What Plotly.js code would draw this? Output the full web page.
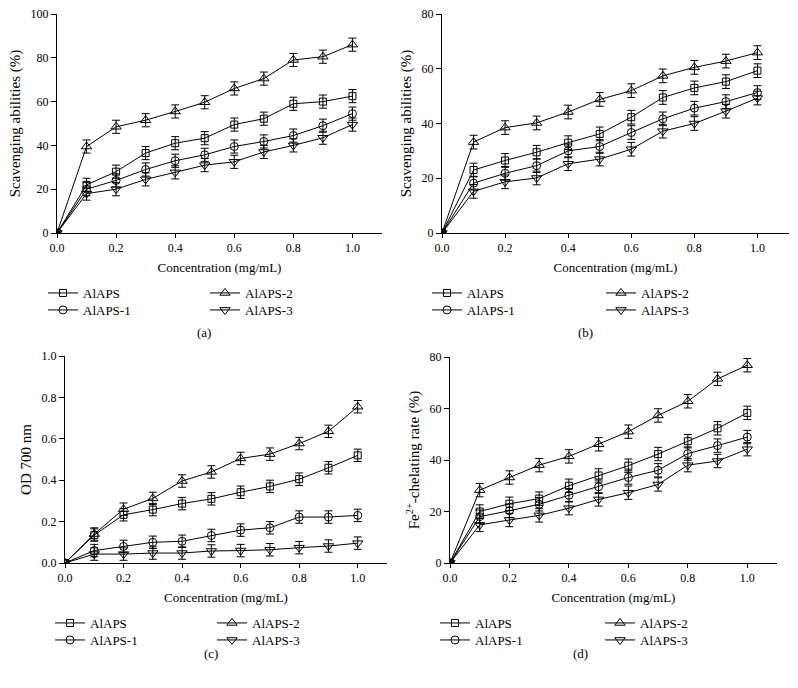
<!DOCTYPE html>
<html>
<head>
<meta charset="utf-8">
<script src="https://cdn.plot.ly/plotly-3.0.1.min.js"></script>
<style>html,body{margin:0;padding:0;background:#fff;}#chart{width:798px;height:688px;}</style>
</head>
<body>
<div id="chart"></div>
<script>
// Concentration (mg/mL)
const conc = [0, 0.1, 0.2, 0.3, 0.4, 0.5, 0.6, 0.7, 0.8, 0.9, 1.0];
const seriesNames = ["AlAPS", "AlAPS-1", "AlAPS-2", "AlAPS-3"];

// (a) Scavenging abilities (%)
const a_AlAPS  = [0, 22, 28, 36.5, 41, 43.3, 49.5, 52.2, 59, 60, 62.5];
const a_AlAPS1 = [0, 20, 24, 29, 33, 35.7, 39.5, 41.8, 44.5, 49, 54.5];
const a_AlAPS2 = [0, 39.5, 48.5, 51.5, 55.5, 59.7, 66, 70.5, 79, 80.5, 86];
const a_AlAPS3 = [0, 18, 20, 24.5, 27.7, 31, 32.5, 37, 40, 43.5, 49.5];
const a_err    = [0, 3, 3, 3, 3, 3, 3, 3, 3, 3, 3];

// (b) Scavenging abilities (%)
const b_AlAPS  = [0, 23, 26.5, 29.5, 33, 36.2, 42.3, 49.5, 53, 55.3, 59.3];
const b_AlAPS1 = [0, 18.2, 21.8, 24.6, 30, 31.6, 36.7, 41.7, 45.6, 48, 51.3];
const b_AlAPS2 = [0, 33.2, 38.5, 40.2, 44.2, 48.8, 52, 57.4, 60.5, 62.8, 65.9];
const b_AlAPS3 = [0, 15.2, 18.7, 20.1, 25.3, 27, 30.6, 37.2, 40, 44.5, 49.3];
const b_err    = [0, 2.5, 2.5, 2.5, 2.5, 2.5, 2.5, 2.5, 2.5, 2.5, 2.5];

// (c) OD 700 nm
const c_AlAPS  = [0, 0.135, 0.233, 0.258, 0.287, 0.31, 0.342, 0.37, 0.405, 0.46, 0.52];
const c_AlAPS1 = [0, 0.06, 0.08, 0.1, 0.105, 0.133, 0.159, 0.17, 0.222, 0.222, 0.23];
const c_AlAPS2 = [0, 0.14, 0.26, 0.312, 0.396, 0.44, 0.505, 0.526, 0.577, 0.636, 0.755];
const c_AlAPS3 = [0, 0.043, 0.043, 0.048, 0.048, 0.058, 0.06, 0.064, 0.074, 0.082, 0.096];
const c_err    = [0, 0.03, 0.03, 0.03, 0.03, 0.03, 0.03, 0.03, 0.03, 0.03, 0.03];

// (d) Fe2+-chelating rate (%)
const d_AlAPS  = [0, 20, 23, 25, 30, 34, 37.8, 42.3, 47.3, 52.3, 58.3];
const d_AlAPS1 = [0, 18, 20.3, 22.8, 26.3, 29.6, 33.2, 36, 42.5, 45.6, 48.9];
const d_AlAPS2 = [0, 28.3, 33.2, 38, 41.4, 46.1, 51, 57.3, 62.8, 71.5, 76.8];
const d_AlAPS3 = [0, 14.8, 16.7, 18.5, 21.3, 24.7, 27.3, 30.5, 38, 39.6, 44.2];
const d_err    = [0, 2.6, 2.6, 2.6, 2.6, 2.6, 2.6, 2.6, 2.6, 2.6, 2.6];

const xTickVals = [0, 0.2, 0.4, 0.6, 0.8, 1.0];
const xTickText = ["0.0", "0.2", "0.4", "0.6", "0.8", "1.0"];

const symbols = ["square-open", "circle-open", "triangle-up-open", "triangle-down-open"];
const sizes = [7, 8, 9, 9];
const FONT = "Liberation Serif, Times New Roman, serif";

const W = 798, H = 688;
function px(x) { return x / W; }
function py(y) { return 1 - y / H; }

// legend placement per panel: [text-x col1, text-x col2, row1 y, row2 y]
const panels = [
  {ax: "", vals: [a_AlAPS, a_AlAPS1, a_AlAPS2, a_AlAPS3], err: a_err, leg: [88, 250, 293, 310]},
  {ax: "2", vals: [b_AlAPS, b_AlAPS1, b_AlAPS2, b_AlAPS3], err: b_err, leg: [472, 646, 293, 310]},
  {ax: "3", vals: [c_AlAPS, c_AlAPS1, c_AlAPS2, c_AlAPS3], err: c_err, leg: [95, 257, 623, 640]},
  {ax: "4", vals: [d_AlAPS, d_AlAPS1, d_AlAPS2, d_AlAPS3], err: d_err, leg: [480, 645, 623, 640]}
];

const traces = [];
const legends = {};
let legIdx = 0;
panels.forEach(p => {
  p.vals.forEach((v, i) => {
    legIdx++;
    const lname = legIdx === 1 ? "legend" : "legend" + legIdx;
    const col = i < 2 ? 0 : 1;
    const row = i % 2;
    legends[lname] = {
      x: px(p.leg[col] - 45), y: py(p.leg[2 + row] - 15), xanchor: "left", yanchor: "top",
      xref: "paper", yref: "paper", orientation: "v", bgcolor: "rgba(0,0,0,0)",
      font: {family: FONT, size: 13, color: "#000"}, itemclick: false, itemdoubleclick: false
    };
    traces.push({
      type: "scatter", mode: "lines+markers",
      x: conc, y: v, name: seriesNames[i],
      xaxis: "x" + p.ax, yaxis: "y" + p.ax,
      legend: lname,
      line: {color: "#000", width: 1},
      marker: {symbol: symbols[i], size: sizes[i], color: "#000", line: {color: "#000", width: 1}},
      error_y: {type: "data", array: p.err, visible: true, color: "#000", thickness: 1, width: 4},
      cliponaxis: true
    });
  });
});

function xaxis(x0, x1) {
  return {
    domain: [px(x0), px(x1)], range: [0, 1.1],
    tickvals: xTickVals, ticktext: xTickText, ticks: "outside", ticklen: 4, tickwidth: 1, tickcolor: "#000",
    showline: true, linecolor: "#000", linewidth: 1, showgrid: false, zeroline: false,
    tickfont: {family: FONT, size: 12, color: "#000"},
    title: {text: "Concentration (mg/mL)", font: {family: FONT, size: 13, color: "#000"}, standoff: 8},
    automargin: false, fixedrange: true
  };
}
function yaxis(y0, y1, rng, dt, fmt, title) {
  return {
    domain: [py(y0), py(y1)], range: rng, dtick: dt, tick0: 0, tickformat: fmt,
    ticks: "outside", ticklen: 5, tickwidth: 1, tickcolor: "#000",
    showline: true, linecolor: "#000", linewidth: 1, showgrid: false, zeroline: false,
    tickfont: {family: FONT, size: 12, color: "#000"},
    title: {text: title, font: {family: FONT, size: 15, color: "#000"}, standoff: 6},
    automargin: false, fixedrange: true
  };
}

const layout = Object.assign({
  width: W, height: H, margin: {l: 0, r: 0, t: 0, b: 0},
  paper_bgcolor: "#fff", plot_bgcolor: "#fff",
  font: {family: FONT, size: 13, color: "#000"},
  xaxis: Object.assign(xaxis(57, 382), {anchor: "y"}),
  yaxis: Object.assign(yaxis(233, 14, [0, 100], 20, "d", "Scavenging abilities (%)"), {anchor: "x"}),
  xaxis2: Object.assign(xaxis(442, 789), {anchor: "y2"}),
  yaxis2: Object.assign(yaxis(233, 14, [0, 80], 20, "d", "Scavenging abilities (%)"), {anchor: "x2"}),
  xaxis3: Object.assign(xaxis(65, 387), {anchor: "y3"}),
  yaxis3: Object.assign(yaxis(563, 356, [0, 1.0], 0.2, ".1f", "OD 700 nm"), {anchor: "x3"}),
  xaxis4: Object.assign(xaxis(450, 777), {anchor: "y4"}),
  yaxis4: Object.assign(yaxis(563, 357, [0, 80], 20, "d", "Fe<sup>2+</sup>-chelating rate (%)"), {anchor: "x4"}),
  annotations: [
    {text: "(a)", x: px(195), y: py(332), xref: "paper", yref: "paper", showarrow: false, font: {family: FONT, size: 13}},
    {text: "(b)", x: px(595), y: py(332), xref: "paper", yref: "paper", showarrow: false, font: {family: FONT, size: 13}},
    {text: "(c)", x: px(202), y: py(663), xref: "paper", yref: "paper", showarrow: false, font: {family: FONT, size: 13}},
    {text: "(d)", x: px(590), y: py(663), xref: "paper", yref: "paper", showarrow: false, font: {family: FONT, size: 13}}
  ],
  showlegend: true
}, legends);

Plotly.newPlot("chart", traces, layout, {staticPlot: true, displayModeBar: false});
</script>
</body>
</html>
